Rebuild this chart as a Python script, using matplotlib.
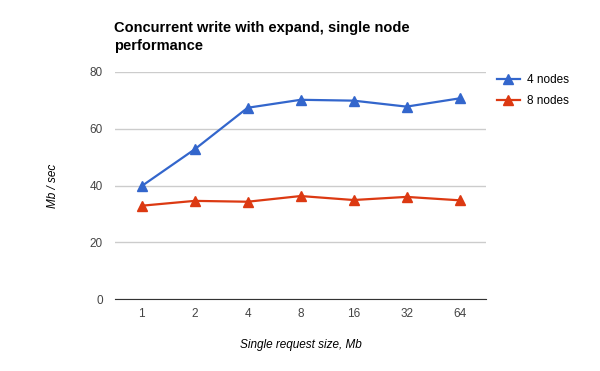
import matplotlib.pyplot as plt
import numpy as np

sizes = ['1', '2', '4', '8', '16', '32', '64']
nodes4 = [39.8, 52.7, 67.3, 70.1, 69.8, 67.7, 70.6]
nodes8 = [32.9, 34.6, 34.3, 36.3, 34.9, 36.0, 34.8]

plt.rcParams['font.family'] = ['Liberation Sans', 'DejaVu Sans']


def main():
    fig = plt.figure(figsize=(6, 3.71), dpi=100)
    ax = fig.add_axes([0.192, 0.193, 0.618, 0.614])
    x = np.arange(len(sizes))

    ax.plot(x, nodes4, color='#3366cc', marker='^', markersize=7, linewidth=1.6, label='4 nodes')
    ax.plot(x, nodes8, color='#dc3912', marker='^', markersize=7, linewidth=1.6, label='8 nodes')

    ax.set_xlim(-0.5, len(sizes) - 0.5)
    ax.set_ylim(0, 80)
    ax.set_yticks([0, 20, 40, 60, 80])
    ax.set_xticks(x)
    ax.set_xticklabels(sizes)
    ax.grid(axis='y', color='#cccccc', linewidth=1)
    ax.set_axisbelow(True)
    for s in ['top', 'right', 'left']:
        ax.spines[s].set_visible(False)
    ax.spines['bottom'].set_color('#333333')
    ax.tick_params(length=0, labelsize=8.5, colors='#444444', pad=6)
    ax.tick_params(axis='y', pad=9)

    ax.set_xlabel('Single request size, Mb', style='italic', fontsize=8.5, labelpad=14)
    ax.set_ylabel('Mb / sec', style='italic', fontsize=8.5, labelpad=22)

    fig.text(0.19, 0.90, 'Concurrent write with expand, single node\nperformance',
             fontsize=10.5, fontweight='bold', va='center', linespacing=1.4)

    ax.legend(loc='upper left', bbox_to_anchor=(1.0, 1.035), frameon=False,
              fontsize=8.5, handlelength=2.0, handletextpad=0.6, labelspacing=0.75)

    fig.savefig('out.png', dpi=100)


if __name__ == '__main__':
    main()
